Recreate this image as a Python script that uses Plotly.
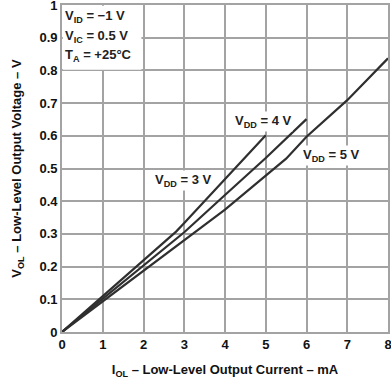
import plotly.graph_objects as go

# Data
iol_3v = [0, 1, 2, 2.8, 3, 4, 5]
vol_3v = [0, 0.11, 0.222, 0.307, 0.333, 0.468, 0.602]

iol_4v = [0, 1, 2, 3, 4, 5, 6]
vol_4v = [0, 0.102, 0.205, 0.305, 0.419, 0.532, 0.651]

iol_5v = [0, 1, 2, 2.85, 4, 5, 5.5, 6, 7, 8]
vol_5v = [0, 0.093, 0.186, 0.266, 0.374, 0.478, 0.53, 0.597, 0.709, 0.837]

x_ticks = [0, 1, 2, 3, 4, 5, 6, 7, 8]
x_ticktext = ["0", "1", "2", "3", "4", "5", "6", "7", "8"]
y_ticks = [0, 0.1, 0.2, 0.3, 0.4, 0.5, 0.6, 0.7, 0.8, 0.9, 1.0]
y_ticktext = ["0", "0.1", "0.2", "0.3", "0.4", "0.5", "0.6", "0.7", "0.8", "0.9", "1"]

series = [
    ("V<sub>DD</sub> = 3 V", iol_3v, vol_3v),
    ("V<sub>DD</sub> = 4 V", iol_4v, vol_4v),
    ("V<sub>DD</sub> = 5 V", iol_5v, vol_5v),
]
label_pos = [(2.97, 0.462), (4.93, 0.645), (6.6, 0.54)]
cond_lines = ["V<sub>ID</sub> = \u22121 V", "V<sub>IC</sub> = 0.5 V", "T<sub>A</sub> = +25\u00b0C"]
cond_y = [0.965, 0.905, 0.847]

FONT = "Liberation Sans, Arial, Helvetica, sans-serif"
LINE = "#2f2f2f"
GRID = "#a3a3a3"

fig = go.Figure()
for name, x, y in series:
    fig.add_trace(go.Scatter(x=x, y=y, mode="lines", name=name,
                             line=dict(color=LINE, width=2.2), showlegend=False,
                             hoverinfo="skip"))

for (name, _, _), (lx, ly) in zip(series, label_pos):
    fig.add_annotation(x=lx, y=ly, text="<b>" + name + "</b>", showarrow=False,
                       font=dict(family=FONT, size=13, color="#222"),
                       bgcolor="white", borderpad=1)

fig.add_shape(type="rect", x0=0.02, x1=1.95, y0=0.802, y1=0.998, xref="x", yref="y",
              fillcolor="white", line=dict(width=0), layer="between")
for t, yy in zip(cond_lines, cond_y):
    fig.add_annotation(x=0.02, y=yy, text="<b>" + t + "</b>", showarrow=False,
                       xanchor="left", font=dict(family=FONT, size=13, color="#222"))

axis_common = dict(showgrid=True, gridcolor=GRID, gridwidth=1.6, zeroline=False,
                   showline=True, linecolor=GRID, linewidth=1.6, mirror=True,
                   ticks="", ticklabeloverflow="allow",
                   tickfont=dict(family=FONT, size=13, color="#111"))

fig.update_xaxes(range=[0, 8], tickvals=x_ticks, ticktext=["<b>%s</b>" % t for t in x_ticktext],
                 title=dict(text="<b>I<sub>OL</sub> \u2013 Low-Level Output Current \u2013 mA</b>",
                            font=dict(family=FONT, size=13, color="#111"), standoff=15),
                 **axis_common)
fig.update_yaxes(range=[0, 1], tickvals=y_ticks, ticktext=["<b>%s</b>" % t for t in y_ticktext],
                 title=dict(text="<b>V<sub>OL</sub> \u2013 Low-Level Output Voltage \u2013 V</b>",
                            font=dict(family=FONT, size=13, color="#111"), standoff=15),
                 **axis_common)

fig.update_layout(width=391, height=379, margin=dict(l=62, r=3, t=5, b=47, autoexpand=False),
                  paper_bgcolor="white", plot_bgcolor="white", showlegend=False)

fig.write_html("out.html", config={"displayModeBar": False},
               post_script="document.body.style.margin='0';document.body.style.overflow='hidden';")
